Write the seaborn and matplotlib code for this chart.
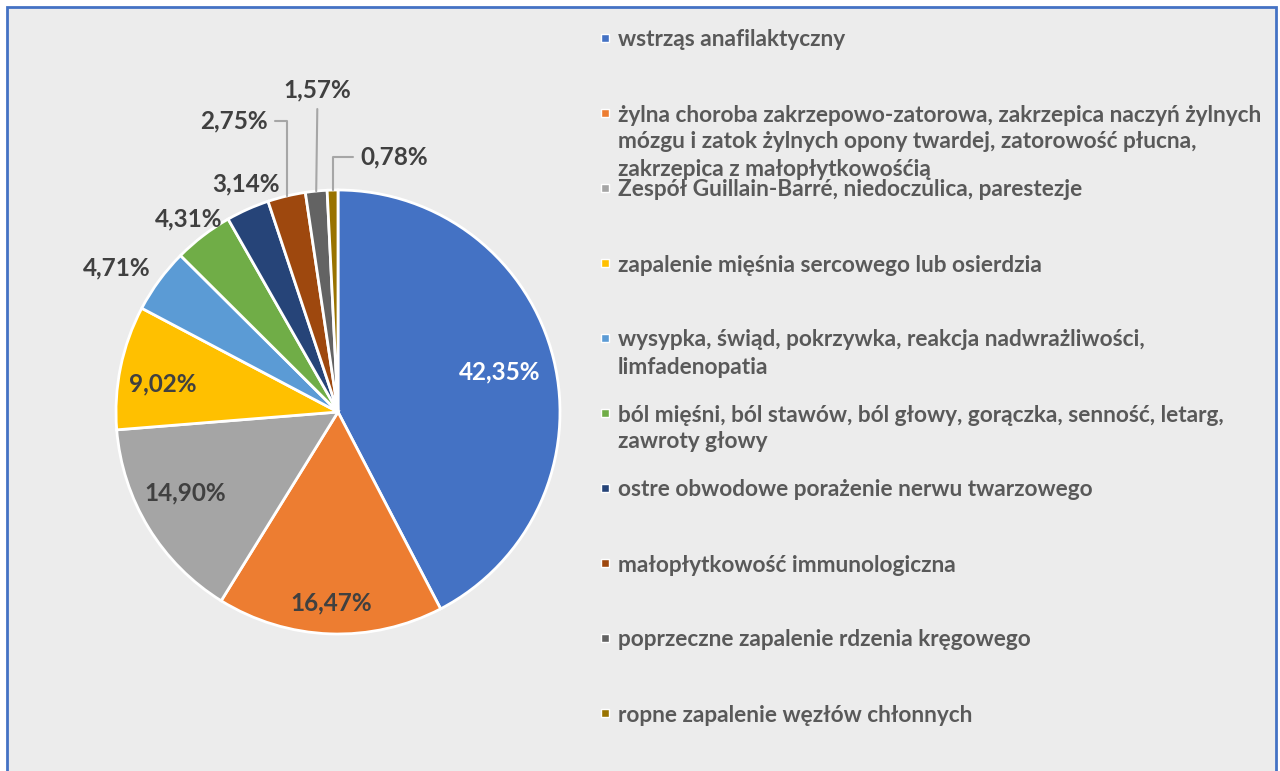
import numpy as np
import matplotlib.pyplot as plt
import seaborn as sns
from matplotlib.patches import Rectangle

# data
categories = [
    "wstrząs anafilaktyczny",
    "żylna choroba zakrzepowo-zatorowa, zakrzepica naczyń żylnych\nmózgu i zatok żylnych opony twardej, zatorowość płucna,\nzakrzepica z małopłytkowośćią",
    "Zespół Guillain-Barré, niedoczulica, parestezje",
    "zapalenie mięśnia sercowego lub osierdzia",
    "wysypka, świąd, pokrzywka, reakcja nadwrażliwości,\nlimfadenopatia",
    "ból mięśni, ból stawów, ból głowy, gorączka, senność, letarg,\nzawroty głowy",
    "ostre obwodowe porażenie nerwu twarzowego",
    "małopłytkowość immunologiczna",
    "poprzeczne zapalenie rdzenia kręgowego",
    "ropne zapalenie węzłów chłonnych",
]
shares = [42.35, 16.47, 14.90, 9.02, 4.71, 4.31, 3.14, 2.75, 1.57, 0.78]
colors = ["#4472C4", "#ED7D31", "#A5A5A5", "#FFC000", "#5B9BD5",
          "#70AD47", "#264478", "#9E480E", "#636363", "#997300"]

# label placement (radius in pie units, angle nudge in degrees, leader line)
label_r = [0.75, 0.86, 0.78, 0.80, 1.19, 1.10, 1.11, 1.392, 1.453, 1.176]
label_dang = [0, 0, -3.5, 2.5, 3.3, 0.3, -2, 6.3, -2.0, -13.8]
leader = [None] * 7 + ["angle,angleA=0,angleB=90,rad=0", "arc3", "angle,angleA=0,angleB=90,rad=0"]

sns.set_theme(style="white")
plt.rcParams['font.family'] = ['Lato', 'DejaVu Sans']

W, H = 1280, 771
fig = plt.figure(figsize=(W / 100, H / 100), dpi=100)
fig.patch.set_facecolor("white")

# chart area frame
fig.add_artist(Rectangle((7 / W, -0.05), (1276 - 7) / W, 1 - 7 / H + 0.05,
                         transform=fig.transFigure, facecolor="#ECECEC",
                         edgecolor="#4472C4", lw=2, zorder=0))

ax = fig.add_axes([5 / W, 26 / H, 666 / W, 666 / H])
ax.patch.set_alpha(0)
palette = sns.color_palette(colors)
wedges, _ = ax.pie(shares, colors=palette, startangle=90, counterclock=False,
                   wedgeprops=dict(edgecolor="white", linewidth=2))
ax.set_xlim(-1.5, 1.5)
ax.set_ylim(-1.5, 1.5)
ax.axis("off")

for i, w in enumerate(wedges):
    mid = (w.theta1 + w.theta2) / 2
    ang = np.deg2rad(mid + label_dang[i])
    txt = f"{shares[i]:.2f}".replace(".", ",") + "%"
    col = "white" if i == 0 else "#404040"
    pos = (label_r[i] * np.cos(ang), label_r[i] * np.sin(ang))
    if leader[i] is None:
        ax.text(*pos, txt, ha="center", va="center", fontsize=17.5,
                fontweight="bold", color=col)
    else:
        edge = (np.cos(np.deg2rad(mid)), np.sin(np.deg2rad(mid)))
        ax.annotate(txt, xy=edge, xytext=pos, ha="center", va="center",
                    fontsize=17.5, fontweight="bold", color=col,
                    arrowprops=dict(arrowstyle="-", color="#A6A6A6", lw=1.5,
                                    connectionstyle=leader[i],
                                    shrinkA=3, shrinkB=0))

# legend (handle aligned with the first line of each entry)
y0, step, line_h = 38, 75, 27
for i, lab in enumerate(categories):
    yc = y0 + i * step
    fig.add_artist(Rectangle((601 / W, 1 - (yc + 4) / H), 8 / W, 8 / H,
                             transform=fig.transFigure, facecolor=colors[i],
                             edgecolor="white", lw=1))
    for j, line in enumerate(lab.split("\n")):
        fig.text(618 / W, 1 - (yc + j * line_h) / H, line, ha="left",
                 va="center_baseline", fontsize=16.3, fontweight="bold",
                 color="#595959")

fig.savefig("out.png", dpi=100)
